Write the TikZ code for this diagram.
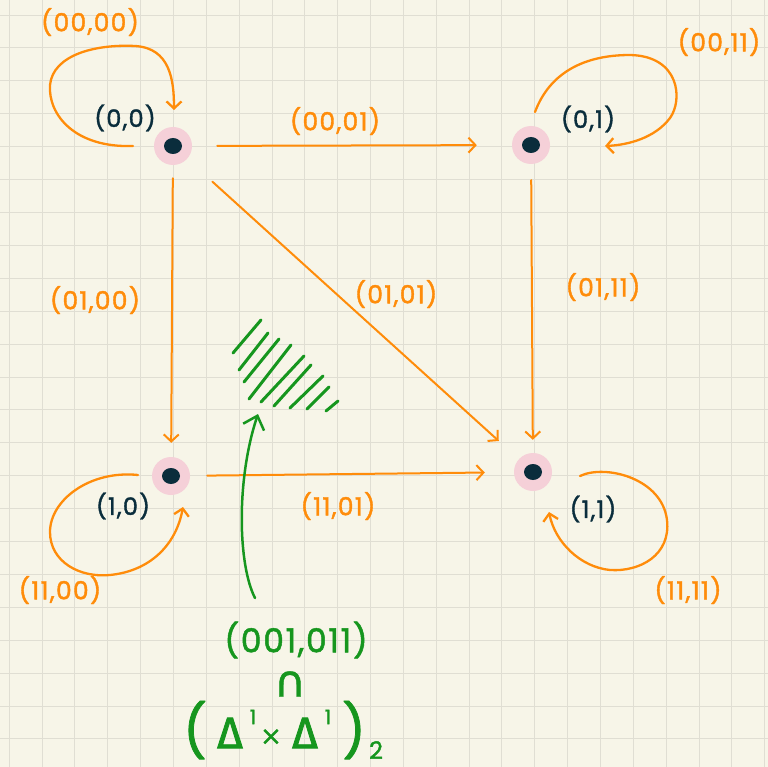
\documentclass[tikz,border=0pt]{standalone}
\usepackage{fontspec}
\setmainfont{Poppins}
\newfontfamily\hand[Numbers=Monospaced,LetterSpace=5,FakeBold=1.5]{Poppins}
\newfontfamily\greekhand[FakeBold=2]{Fira Sans}
\newfontfamily\symhand[FakeBold=1]{DejaVu Sans}
\usetikzlibrary{arrows.meta}
\definecolor{bgc}{RGB}{247,245,232}
\definecolor{gridc}{RGB}{224,222,211}
\definecolor{orng}{RGB}{255,140,10}
\definecolor{grn}{RGB}{22,150,30}
\definecolor{ink}{RGB}{10,45,60}
\definecolor{halo}{RGB}{245,208,216}
\begin{document}
\begin{tikzpicture}[x=1pt,y=-1pt,
  vert/.style={circle,fill=halo,minimum size=38pt,inner sep=0pt,
    path picture={\fill[ink] (path picture bounding box.center) ellipse (9pt and 8pt);}},
  edge/.style={draw=orng,line width=2pt,line cap=round,-{Straight Barb[length=7pt,width=15pt,line width=2pt]}},
  loopc/.style={draw=orng,line width=2.3pt,line cap=round,-{Straight Barb[length=7pt,width=15pt,line width=2.3pt]}},
  elab/.style={text=orng,font=\hand\fontsize{25}{29}\selectfont},
  vlab/.style={text=ink,font=\hand\fontsize{24}{28}\selectfont},
  hatch/.style={draw=grn,line width=3pt,line cap=round},
  glab/.style={text=grn,inner sep=0pt,font=\hand\fontsize{33}{36}\selectfont}]
\fill[bgc] (0,0) rectangle (768,767);
\useasboundingbox (0,0) rectangle (768,767);
\foreach \i in {0,...,23} \draw[gridc,line width=1pt] ({9.2+32.85*\i},0) -- ++(0,767);
\foreach \j in {0,...,23} \draw[gridc,line width=1pt] (0,{15.1+32.9*\j}) -- ++(768,0);

% vertices
\node[vert] (v00) at (173,146) {};
\node[vert] (v01) at (531,145) {};
\node[vert] (v10) at (171,476) {};
\node[vert] (v11) at (533,472) {};
\node[vlab] (l00) at (125,118) {(0,0)};
\node[vlab] (l01) at (588,119) {(0,1)};
\node[vlab] (l10) at (123,506) {(1,0)};
\node[vlab] (l11) at (593,509) {(1,1)};

% edges
\draw[edge,shorten <=25pt,shorten >=35pt] (v00) -- (v01);
\draw[edge,shorten <=13pt,shorten >=14pt] (v00) -- (v10);
\draw[edge,shorten <=34pt,shorten >=27pt] (v00) -- (v11);
\draw[edge,shorten <=16pt,shorten >=13pt] (v01) -- (v11);
\draw[edge,shorten <=17pt,shorten >=29pt] (v10) -- (v11);

% loops
\draw[loopc] (133,146) .. controls (75,148) and (48,115) .. (50,85)
  .. controls (53,55) and (95,44) .. (135,46)
  .. controls (170,48) and (174,80) .. (174,110);
\draw[loopc] (535,112) .. controls (550,72) and (585,55) .. (630,55)
  .. controls (680,56) and (683,100) .. (670,118)
  .. controls (655,138) and (628,145) .. (605,146);
\draw[loopc] (138,475) .. controls (90,470) and (50,500) .. (50,532)
  .. controls (50,562) and (80,578) .. (110,575)
  .. controls (150,571) and (176,545) .. (183,507);
\draw[loopc] (580,476) .. controls (605,464) and (662,478) .. (667,520)
  .. controls (671,555) and (640,572) .. (610,570)
  .. controls (580,567) and (555,542) .. (549,512);

% edge labels
\node[elab] (e1) at (335,121) {(00,01)};
\node[elab] (e2) at (95,300) {(01,00)};
\node[elab] (e3) at (396,294) {(01,01)};
\node[elab] (e4) at (603,287) {(01,11)};
\node[elab] (e5) at (338,506) {(11,01)};
\node[elab] (e6) at (90,22) {(00,00)};
\node[elab] (e7) at (719,42) {(00,11)};
\node[elab] (e8) at (60,590) {(11,00)};
\node[elab] (e9) at (688,590) {(11,11)};

% hatching
\draw[hatch] (233,353) -- (261,320);
\draw[hatch] (239,370) -- (268,333);
\draw[hatch] (244,382) -- (279,339);
\draw[hatch] (249,399) -- (291,345);
\draw[hatch] (261,402) -- (304,356);
\draw[hatch] (274,406) -- (311,365);
\draw[hatch] (290,408) -- (323,376);
\draw[hatch] (307,409) -- (329,387);
\draw[hatch] (326,411) -- (338,401);

% green annotation
\coordinate (gs) at (255,598);
\coordinate (gt) at (258,414);
\draw[draw=grn,line width=2.5pt,line cap=round,-{Straight Barb[length=12pt,width=22pt,line width=2.5pt]}]
  (gs) .. controls (238,565) and (236,480) .. (gt);
\node[glab] (g1) at (296,640) {(001,011)};
\node[glab,font=\symhand\fontsize{44}{46}\selectfont] (g2) at (290,684) {∩};
\node[glab,font=\hand\fontsize{52}{56}\selectfont] (lp) at (195,730) {(};
\node[glab,font=\greekhand\fontsize{44}{46}\selectfont] (d1) at (230,733) {Δ};
\node[glab,font=\hand\fontsize{20}{22}\selectfont] (s1) at (253,717) {1};
\node[glab,font=\symhand\fontsize{26}{28}\selectfont] (tx) at (271,737) {×};
\node[glab,font=\greekhand\fontsize{44}{46}\selectfont] (d2) at (305,733) {Δ};
\node[glab,font=\hand\fontsize{20}{22}\selectfont] (s2) at (328,717) {1};
\node[glab,font=\hand\fontsize{52}{56}\selectfont] (rp) at (354,730) {)};
\node[glab,font=\hand\fontsize{24}{26}\selectfont] (sb) at (376,750) {2};
\end{tikzpicture}
\end{document}
